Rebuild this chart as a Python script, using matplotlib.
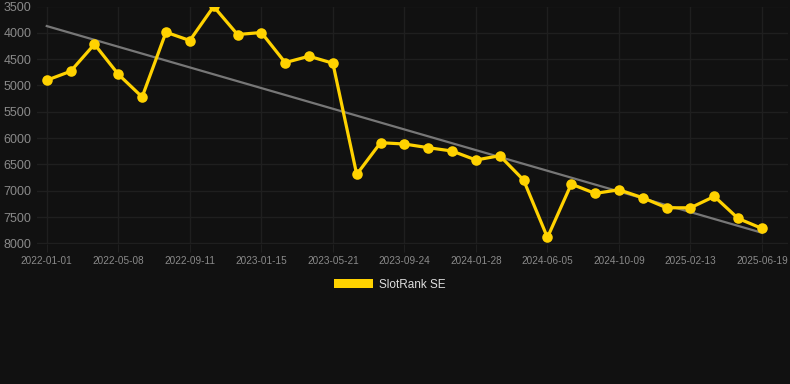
import matplotlib
matplotlib.use("Agg")
import matplotlib.pyplot as plt
from matplotlib.patches import Patch
import numpy as np

plt.rcParams['font.family'] = ['Liberation Sans', 'DejaVu Sans']

dates = ["2022-01-01", "", "", "2022-05-08", "", "", "2022-09-11", "", "",
         "2023-01-15", "", "", "2023-05-21", "", "", "2023-09-24", "", "",
         "2024-01-28", "", "", "2024-06-05", "", "", "2024-10-09", "", "",
         "2025-02-13", "", "", "2025-06-19"]
ranks = [4900, 4730, 4216, 4787, 5218, 3988, 4146, 3500, 4032, 3994,
         4565, 4444, 4577, 6688, 6086, 6111, 6181, 6244, 6415, 6333,
         6796, 7886, 6872, 7049, 6980, 7132, 7322, 7322, 7106, 7525, 7715]
series_name = "SlotRank SE"

bg = "#111111"
fig = plt.figure(figsize=(7.9, 3.84), dpi=100, facecolor=bg)
ax = fig.add_axes([37/790, 1 - 243.5/384, (788-37)/790, (243.5-6.5)/384], facecolor=bg)

x = np.arange(len(ranks))
coef = np.polyfit(x, ranks, 1)
ax.plot(x, np.polyval(coef, x), color="#777777", lw=1.6, zorder=2)
ax.plot(x, ranks, color="#FFD200", lw=2.3, marker="o", markersize=7.6,
        markerfacecolor="#FFD200", markeredgewidth=0, zorder=3)

ax.set_ylim(8000, 3500)
ax.set_yticks(np.arange(3500, 8001, 500))
ax.set_xlim(-0.41, 31.09)
tick_idx = [i for i, d in enumerate(dates) if d]
ax.set_xticks(tick_idx)
ax.set_xticklabels([dates[i] for i in tick_idx])

ax.grid(True, color="#1f1f1f", lw=1.0)
for s in ax.spines.values():
    s.set_visible(False)
ax.tick_params(axis='y', length=0, pad=4, labelsize=9, labelcolor="#8a8a8a")
ax.tick_params(axis='x', length=6, color="#1f1f1f", pad=3, labelsize=7.2, labelcolor="#8a8a8a")

handle = Patch(facecolor="#FFD200", edgecolor="none")
fig.legend([handle], [series_name], loc="center", bbox_to_anchor=(390/790, 1 - 284.5/384),
           frameon=False, fontsize=8.5, labelcolor="#dddddd",
           handlelength=3.3, handleheight=0.8, handletextpad=0.5)

fig.savefig("out.png", dpi=100, facecolor=bg)
